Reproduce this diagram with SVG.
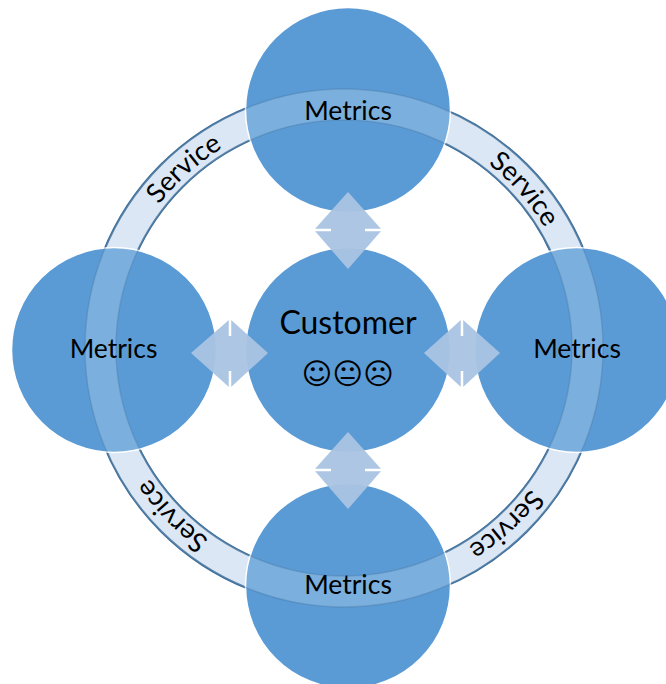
<svg xmlns="http://www.w3.org/2000/svg" width="666" height="684" viewBox="0 0 666 684">
<style>
.c{fill:#5b9bd5;stroke:#fff;stroke-width:1.5}
.a{fill:#aac4e2;fill-opacity:.96}
.t{stroke:#fff;stroke-width:2.5}
text{font-family:Lato,"Liberation Sans",sans-serif;fill:#000;text-anchor:middle}
.m{font-size:26.5px}
.s{font-size:27px}
</style>
<defs>
<path id="r" d="M344 114A234 234 0 1 1 344 582A234 234 0 1 1 344 114Z"/>
<path id="b" fill-rule="evenodd" d="M344 89A259 259 0 1 1 344 607A259 259 0 1 1 344 89ZM344 120A228 228 0 1 0 344 576A228 228 0 1 0 344 120Z"/>
</defs>
<g id="ring-base"><use href="#b" fill="#d3e2f2" stroke="#41719c" stroke-width="2.2"/></g>
<g id="node-top"><circle class="c" cx="348" cy="110" r="102.5"/></g>
<g id="node-left"><circle class="c" cx="114" cy="350" r="102.5"/></g>
<g id="node-right"><circle class="c" cx="577" cy="350" r="102.5"/></g>
<g id="node-bottom"><circle class="c" cx="348" cy="586" r="102.5"/></g>
<g id="node-customer"><circle class="c" cx="348" cy="350" r="102.5"/></g>
<g id="ring-overlay"><use href="#b" fill="#fff" fill-opacity=".2" stroke="#41719c" stroke-opacity=".3" stroke-width="1.5"/></g>
<g id="connectors">
<path class="a" d="M348 192L382 230L348 269L314 230Z"/>
<path class="t" d="M314 230H331M365 230H382"/>
<path class="a" d="M348 432L382 470L348 509L314 470Z"/>
<path class="t" d="M314 470H331M365 470H382"/>
<path class="a" d="M191 353L230 319L268 353L230 388Z"/>
<path class="t" d="M230 319V336M230 371V388"/>
<path class="a" d="M424 353L462 319L500 353L462 388Z"/>
<path class="t" d="M462 319V336M462 371V388"/>
</g>
<g id="labels">
<text class="m" x="348" y="120">Metrics</text>
<text class="m" x="113.500" y="358">Metrics</text>
<text class="m" x="577" y="358">Metrics</text>
<text class="m" x="348" y="594">Metrics</text>
<text x="348" y="334" font-size="32">Customer</text>
<text x="348" y="384" font-size="29.500" style="font-family:'DejaVu Sans',sans-serif">☺😐☹</text>
<g id="service-labels">
<text class="s"><textPath href="#r" startOffset="13.5%">Service</textPath></text>
<text class="s"><textPath href="#r" startOffset="38.2%">Service</textPath></text>
<text class="s"><textPath href="#r" startOffset="62.7%">Service</textPath></text>
<text class="s"><textPath href="#r" startOffset="88.4%">Service</textPath></text>
</g>
</g>
</svg>
